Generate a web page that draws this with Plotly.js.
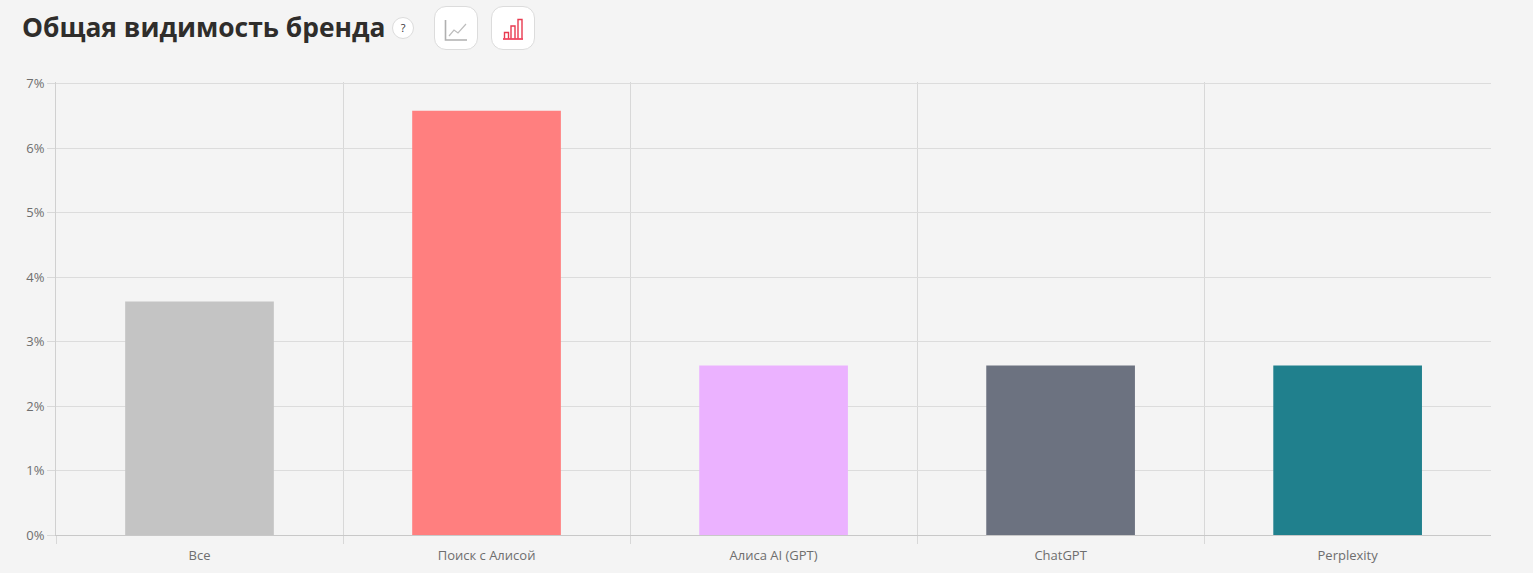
<!DOCTYPE html>
<html><head><meta charset="utf-8">
<script src="https://cdn.plot.ly/plotly-3.0.1.min.js"></script>
<style>
html,body{margin:0;padding:0;background:#f4f4f4;overflow:hidden}
#chart{position:absolute;left:0;top:0;width:1533px;height:573px}
.btn{position:absolute;top:6px;width:42px;height:42px;border:1px solid #dcdcdc;border-radius:12px;background:#fff}
.btn svg{position:absolute;left:0;top:0}
.help{position:absolute;left:392px;top:17px;width:20px;height:20px;border:1px solid #dcdcdc;border-radius:50%;background:#fff;font:11px "Open Sans";color:#333;text-align:center;line-height:20px}
</style></head><body>
<div id="chart"></div>
<div class="help">?</div>
<div class="btn" style="left:434px"><svg width="42" height="42" fill="none"><path d="M10.5 13V33H32" stroke="#b0b0b0" stroke-width="1.6"/><path d="M14 29L19 23L23 26L31 17" stroke="#bdbdbd" stroke-width="1.2"/></svg></div>
<div class="btn" style="left:491px"><svg width="42" height="42" fill="none"><path d="M11 32H31" stroke="#f0304f" stroke-width="1.6"/><path d="M12.5 31.5V25.5H16.5V31.5M19 31.5V19H23V31.5M26 31.5V12.5H30V31.5" stroke="#e83a50" stroke-width="1.4"/></svg></div>
<script>
const categories = ["Все", "Поиск с Алисой", "Алиса AI (GPT)", "ChatGPT", "Perplexity"];
const visibility = [3.62, 6.58, 2.63, 2.63, 2.63];
const barColors = ["#c4c4c4", "#ff7f7f", "#ebb2ff", "#6c7280", "#20808d"];
const yTicks = [0, 1, 2, 3, 4, 5, 6, 7];
const yTickLabels = ["0%", "1%", "2%", "3%", "4%", "5%", "6%", "7%"];
const W = 1533, H = 573;
Plotly.newPlot("chart", [{
  type: "bar", x: categories, y: visibility, width: 0.518,
  marker: {color: barColors, line: {width: 0}}, hoverinfo: "x+y"
}], {
  width: W, height: H,
  paper_bgcolor: "#f4f4f4", plot_bgcolor: "#f4f4f4",
  margin: {l: 56, r: 42, t: 82, b: 38, pad: 0},
  showlegend: false,
  title: {text: "<b>Общая видимость бренда</b>", x: 22/W, xref: "container", xanchor: "left", y: 1-28/H, yref: "container", yanchor: "middle",
    font: {family: "Open Sans", size: 26.4, color: "#2f2d2b"}},
  xaxis: {type: "category", range: [-0.5, 4.4995], tickson: "boundaries", ticks: "outside", ticklen: 8, tickwidth: 1, tickcolor: "#d8d8d8",
    showgrid: true, gridcolor: "#d8d8d8", gridwidth: 1, showline: true, linecolor: "#c8c8c8", linewidth: 1,
    ticklabelstandoff: 8,
    tickfont: {family: "Open Sans", size: 13, color: "#6e6e6e"}, automargin: false, zeroline: false},
  yaxis: {range: [0, 7.025], tickmode: "array", tickvals: yTicks, ticktext: yTickLabels,
    ticks: "outside", ticklen: 8, tickwidth: 1, tickcolor: "#d8d8d8",
    showgrid: true, gridcolor: "#dcdcdc", gridwidth: 1, showline: true, linecolor: "#d0d0d0", linewidth: 1, zeroline: false,
    tickfont: {family: "Open Sans", size: 13, color: "#6e6e6e"}, automargin: false},
  bargap: 0.48
}, {displayModeBar: false});
</script>
</body></html>
